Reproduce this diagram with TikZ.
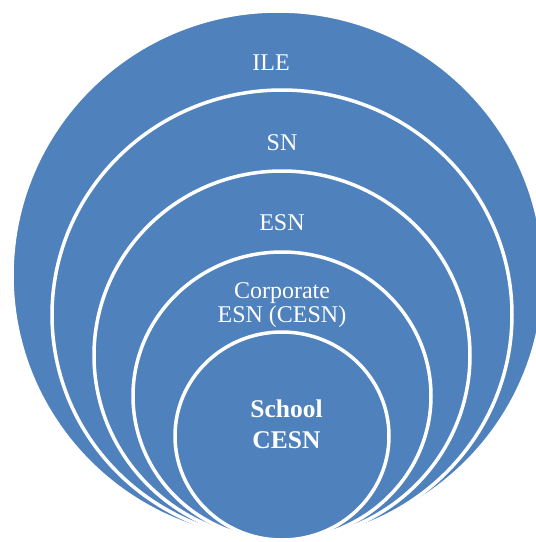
\documentclass[tikz,border=0pt]{standalone}
\usepackage{fontspec}
\setmainfont{Liberation Serif}
\definecolor{ringblue}{RGB}{79,129,189}
\begin{document}
\begin{tikzpicture}[x=1pt,y=-1pt,
  ring/.style={fill=ringblue,draw=white,line width=3.5pt},
  lbl/.style={text=white,font=\fontsize{24}{24.3}\selectfont,inner sep=0pt,align=center},
  lblbold/.style={text=white,font=\fontsize{25.5}{31.7}\selectfont\bfseries,inner sep=0pt,align=center}]
\useasboundingbox (0,0) rectangle (536,542);
\clip (0,0) rectangle (536,542);
\draw[ring] (278,275.5) ellipse [x radius=266pt, y radius=264.5pt];
\draw[ring] (282,315) ellipse [x radius=230pt, y radius=225pt];
\draw[ring] (282,355.5) ellipse [x radius=188pt, y radius=184.5pt];
\draw[ring] (282,396) ellipse [x radius=149pt, y radius=144pt];
\draw[ring] (282,436) ellipse [x radius=107pt, y radius=104pt];
\node[lbl,anchor=base] (ile) at (271,70.7) {ILE};
\node[lbl,anchor=base] (sn) at (282,150) {SN};
\node[lbl,anchor=base] (esn) at (282,230) {ESN};
\node[lbl] (cesn) at (282,305) {Corporate\\ESN (CESN)};
\node[lblbold] (school) at (286.5,424.4) {School\\CESN};
\end{tikzpicture}
\end{document}
